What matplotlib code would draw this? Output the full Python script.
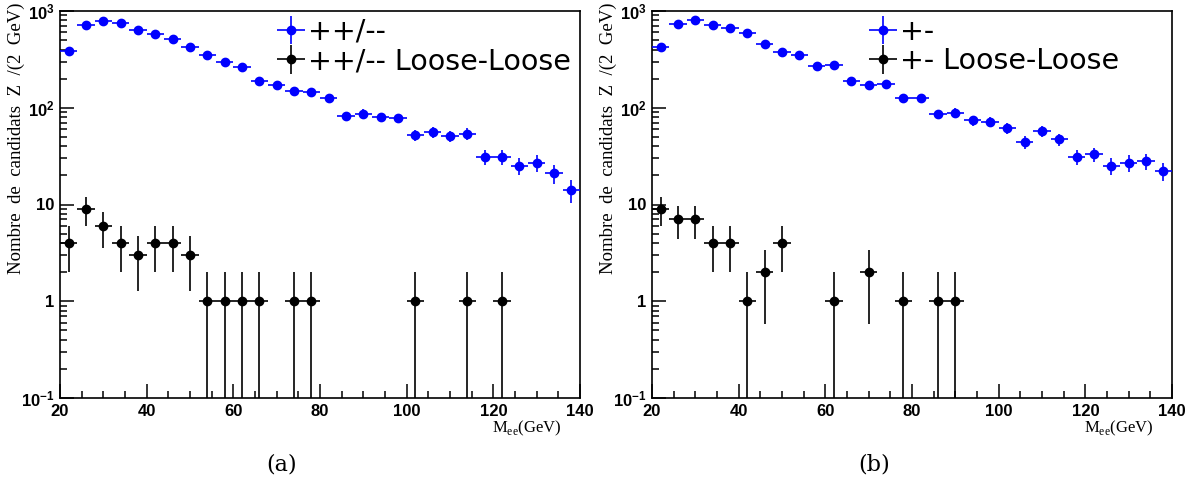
import numpy as np
import matplotlib
matplotlib.use("Agg")
import matplotlib.pyplot as plt
from matplotlib.ticker import FixedLocator, FixedFormatter, MultipleLocator, LogLocator, NullFormatter

plt.rcParams['mathtext.fontset'] = 'custom'
plt.rcParams['mathtext.rm'] = 'Liberation Serif'
plt.rcParams['mathtext.bf'] = 'Liberation Sans:bold'

# bin centres of the M_ee histogram (4 GeV bins, 20 -> 140)
mass_bins = [22, 26, 30, 34, 38, 42, 46, 50, 54, 58, 62, 66, 70, 74, 78,
             82, 86, 90, 94, 98, 102, 106, 110, 114, 118, 122, 126, 130, 134, 138]
bin_half_width = 2

# (a) same sign ++/--
ss_all = [390, 720, 780, 760, 630, 575, 510, 425, 355, 300, 262, 190, 172, 150, 144,
          127, 82, 87, 80, 78, 52, 56, 51, 54, 31, 31, 25, 27, 21, 14]
ss_loose = [4, 9, 6, 4, 3, 4, 4, 3, 1, 1, 1, 1, 0, 1, 1,
            0, 0, 0, 0, 0, 1, 0, 0, 1, 0, 1, 0, 0, 0, 0]

# (b) opposite sign +-
os_all = [425, 735, 800, 715, 670, 590, 455, 380, 355, 270, 278, 188, 172, 177, 126,
          126, 86, 89, 74, 72, 62, 44, 57, 47, 31, 33, 25, 27, 28, 22]
os_loose = [9, 7, 7, 4, 4, 1, 2, 4, 0, 0, 1, 0, 2, 0, 1,
            0, 1, 1, 0, 0, 0, 0, 0, 0, 0, 0, 0, 0, 0, 0]

legend_labels = [["++/--", "++/-- Loose-Loose"], ["+-", "+- Loose-Loose"]]
ytick_vals = [0.1, 1, 10, 100, 1000]
ytick_labels = [r'$\mathbf{10^{-1}}$', '1', '10', r'$\mathbf{10^{2}}$', r'$\mathbf{10^{3}}$']
ylabel = "Nombre  de  candidats  Z  /(2  GeV)"
captions = ["(a)", "(b)"]

W, H = 1202, 491
fig = plt.figure(figsize=(W / 100, H / 100), dpi=100)


def draw_points(ax, counts, color):
    x = np.array(mass_bins, dtype=float)
    n = np.array(counts, dtype=float)
    keep = n > 0
    err = np.sqrt(n[keep])
    return ax.errorbar(x[keep], n[keep], yerr=err, xerr=bin_half_width, fmt='o',
                       color=color, ms=6, elinewidth=1.2, capsize=0, zorder=3)


def make_panel(ax_left, all_counts, loose_counts, labels, caption, xoff):
    ax = fig.add_axes([ax_left / W, (H - 398) / H, 520 / W, 387 / H])
    ax.set_yscale('log', nonpositive='clip')
    h1 = draw_points(ax, all_counts, 'blue')
    h2 = draw_points(ax, loose_counts, 'black')
    ax.set_xlim(20, 140)
    ax.set_ylim(0.1, 1000)

    ax.xaxis.set_major_locator(MultipleLocator(20))
    ax.xaxis.set_minor_locator(MultipleLocator(5))
    ax.yaxis.set_major_locator(FixedLocator(ytick_vals))
    ax.yaxis.set_major_formatter(FixedFormatter(ytick_labels))
    ax.yaxis.set_minor_locator(LogLocator(base=10, subs=np.arange(2, 10)))
    ax.yaxis.set_minor_formatter(NullFormatter())
    ax.tick_params(which='both', direction='in', top=False, right=False, width=1.1)
    ax.tick_params(which='major', length=10)
    ax.tick_params(which='minor', length=5)
    ax.tick_params(axis='x', pad=4)
    ax.tick_params(axis='y', pad=4)
    for lab in ax.get_xticklabels() + ax.get_yticklabels():
        lab.set_fontfamily('Liberation Sans')
        lab.set_fontweight('bold')
        lab.set_fontsize(12)
    for s in ax.spines.values():
        s.set_linewidth(1.2)

    ax.legend([h1, h2], labels, loc='upper left',
              bbox_to_anchor=((ax_left + 224) / W, 1 - 18 / H),
              bbox_transform=fig.transFigure, frameon=False,
              prop={'family': 'DejaVu Sans', 'size': 20.5},
              handlelength=0.5, handletextpad=0.35, labelspacing=0.05,
              borderpad=0, borderaxespad=0)

    fig.text((xoff + 16) / W, 1 - 3 / H, ylabel, rotation=90, ha='center', va='top',
             family='Liberation Serif', fontsize=13.5)
    fig.text((ax_left + 502) / W, 1 - 428 / H, r'M$_{\mathrm{ee}}$(GeV)', ha='right',
             va='center', family='Liberation Serif', fontsize=12)
    fig.text((ax_left + 222) / W, 1 - 465 / H, caption, ha='center', va='center',
             family='DejaVu Serif', fontsize=16)
    return ax


make_panel(60, ss_all, ss_loose, legend_labels[0], captions[0], 0)
make_panel(652, os_all, os_loose, legend_labels[1], captions[1], 592)

fig.savefig('out.png', dpi=100)
